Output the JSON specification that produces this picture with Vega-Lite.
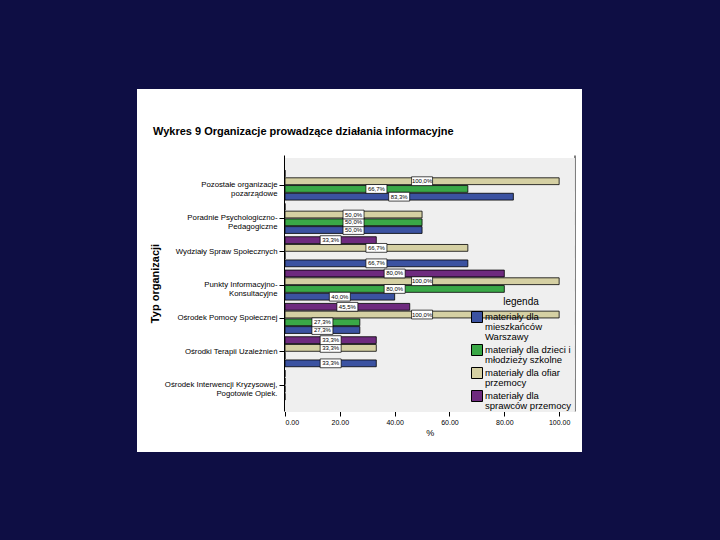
{
  "$schema": "https://vega.github.io/schema/vega-lite/v6.json",
  "width": 445,
  "height": 363,
  "autosize": {"type": "none"},
  "padding": {"left": 137, "top": 89, "right": 138, "bottom": 88},
  "background": "#0e0e44",
  "config": {
    "view": {"fill": "white", "stroke": null},
    "font": "Liberation Sans",
    "locale": {"number": {"decimal": ",", "thousands": ".", "grouping": [3], "currency": ["", "%"]}},
    "axis": {"grid": false, "domainColor": "black", "tickColor": "black", "labelColor": "black", "titleColor": "black", "labelFont": "Liberation Sans", "titleFont": "Liberation Sans"}
  },
  "title": {
    "text": "Wykres 9 Organizacje prowadzące działania informacyjne",
    "anchor": "start",
    "frame": "group",
    "dx": 16,
    "offset": -48,
    "fontSize": 11,
    "fontWeight": "bold",
    "color": "black",
    "font": "Liberation Sans"
  },
  "data": {
    "values": [
      {"typ": "Pozostałe organizacje pozarządowe", "seria": "materiały dla mieszkańców Warszawy", "wartosc": 83.3},
      {"typ": "Pozostałe organizacje pozarządowe", "seria": "materiały dla dzieci i młodzieży szkolne", "wartosc": 66.7},
      {"typ": "Pozostałe organizacje pozarządowe", "seria": "materiały dla ofiar przemocy", "wartosc": 100},
      {"typ": "Pozostałe organizacje pozarządowe", "seria": "materiały dla sprawców przemocy", "wartosc": 0},
      {"typ": "Poradnie Psychologiczno-Pedagogiczne", "seria": "materiały dla mieszkańców Warszawy", "wartosc": 50},
      {"typ": "Poradnie Psychologiczno-Pedagogiczne", "seria": "materiały dla dzieci i młodzieży szkolne", "wartosc": 50},
      {"typ": "Poradnie Psychologiczno-Pedagogiczne", "seria": "materiały dla ofiar przemocy", "wartosc": 50},
      {"typ": "Poradnie Psychologiczno-Pedagogiczne", "seria": "materiały dla sprawców przemocy", "wartosc": 0},
      {"typ": "Wydziały Spraw Społecznych", "seria": "materiały dla mieszkańców Warszawy", "wartosc": 66.7},
      {"typ": "Wydziały Spraw Społecznych", "seria": "materiały dla dzieci i młodzieży szkolne", "wartosc": 0},
      {"typ": "Wydziały Spraw Społecznych", "seria": "materiały dla ofiar przemocy", "wartosc": 66.7},
      {"typ": "Wydziały Spraw Społecznych", "seria": "materiały dla sprawców przemocy", "wartosc": 33.3},
      {"typ": "Punkty Informacyjno-Konsultacyjne", "seria": "materiały dla mieszkańców Warszawy", "wartosc": 40},
      {"typ": "Punkty Informacyjno-Konsultacyjne", "seria": "materiały dla dzieci i młodzieży szkolne", "wartosc": 80},
      {"typ": "Punkty Informacyjno-Konsultacyjne", "seria": "materiały dla ofiar przemocy", "wartosc": 100},
      {"typ": "Punkty Informacyjno-Konsultacyjne", "seria": "materiały dla sprawców przemocy", "wartosc": 80},
      {"typ": "Ośrodek Pomocy Społecznej", "seria": "materiały dla mieszkańców Warszawy", "wartosc": 27.3},
      {"typ": "Ośrodek Pomocy Społecznej", "seria": "materiały dla dzieci i młodzieży szkolne", "wartosc": 27.3},
      {"typ": "Ośrodek Pomocy Społecznej", "seria": "materiały dla ofiar przemocy", "wartosc": 100},
      {"typ": "Ośrodek Pomocy Społecznej", "seria": "materiały dla sprawców przemocy", "wartosc": 45.5},
      {"typ": "Ośrodki Terapii Uzależnień", "seria": "materiały dla mieszkańców Warszawy", "wartosc": 33.3},
      {"typ": "Ośrodki Terapii Uzależnień", "seria": "materiały dla dzieci i młodzieży szkolne", "wartosc": 0},
      {"typ": "Ośrodki Terapii Uzależnień", "seria": "materiały dla ofiar przemocy", "wartosc": 33.3},
      {"typ": "Ośrodki Terapii Uzależnień", "seria": "materiały dla sprawców przemocy", "wartosc": 33.3},
      {"typ": "Ośrodek Interwencji Kryzysowej, Pogotowie Opiek.", "seria": "materiały dla mieszkańców Warszawy", "wartosc": 0},
      {"typ": "Ośrodek Interwencji Kryzysowej, Pogotowie Opiek.", "seria": "materiały dla dzieci i młodzieży szkolne", "wartosc": 0},
      {"typ": "Ośrodek Interwencji Kryzysowej, Pogotowie Opiek.", "seria": "materiały dla ofiar przemocy", "wartosc": 0},
      {"typ": "Ośrodek Interwencji Kryzysowej, Pogotowie Opiek.", "seria": "materiały dla sprawców przemocy", "wartosc": 0}
    ]
  },
  "layer": [
    {
      "layer": [
        {
          "mark": {"type": "bar", "color": "#efefef", "height": {"band": 1.8}},
          "encoding": {
            "y": {
              "field": "typ", "type": "nominal", "sort": null,
              "scale": {"range": [66, 322], "paddingInner": 0.1, "paddingOuter": 0.39, "align": 0.58},
              "axis": {
                "orient": "left", "offset": -147, "tickSize": 5, "labelPadding": 2,
                "labelFontSize": 7.8, "labelLineHeight": 8.5, "labelLimit": 200, "labelColor": "black",
                "labelExpr": "datum.label == 'Pozostałe organizacje pozarządowe' ? ['Pozostałe organizacje', 'pozarządowe'] : datum.label == 'Poradnie Psychologiczno-Pedagogiczne' ? ['Poradnie Psychologiczno-', 'Pedagogiczne'] : datum.label == 'Punkty Informacyjno-Konsultacyjne' ? ['Punkty Informacyjno-', 'Konsultacyjne'] : datum.label == 'Ośrodek Interwencji Kryzysowej, Pogotowie Opiek.' ? ['Ośrodek Interwencji Kryzysowej,', 'Pogotowie Opiek.'] : datum.label",
                "title": "Typ organizacji", "titleFontSize": 11, "titleFontWeight": "bold", "titlePadding": 4
              }
            },
            "x": {
              "datum": 0, "type": "quantitative",
              "scale": {"domain": [0, 105.6], "range": [148, 437.5], "nice": false, "zero": true},
              "axis": {
                "orient": "bottom", "offset": -41, "values": [0, 20, 40, 60, 80, 100],
                "format": ".2f", "labelExpr": "replace(datum.label, ',', '.')",
                "tickSize": 5, "labelPadding": 2, "labelFontSize": 7, "labelColor": "black",
                "title": "%", "titleFontSize": 9, "titleFontWeight": "normal", "titlePadding": 3
              }
            },
            "x2": {"datum": 105.6}
          }
        },
        {
          "mark": {"type": "bar", "stroke": "black", "strokeWidth": 0.8},
          "encoding": {
            "y": {"field": "typ", "type": "nominal", "sort": null},
            "yOffset": {
              "field": "seria", "type": "nominal",
              "scale": {"domain": ["materiały dla sprawców przemocy", "materiały dla ofiar przemocy", "materiały dla dzieci i młodzieży szkolne", "materiały dla mieszkańców Warszawy"], "paddingInner": 0.12}
            },
            "x": {"field": "wartosc", "type": "quantitative"},
            "color": {
              "field": "seria", "type": "nominal",
              "scale": {
                "domain": ["materiały dla mieszkańców Warszawy", "materiały dla dzieci i młodzieży szkolne", "materiały dla ofiar przemocy", "materiały dla sprawców przemocy"],
                "range": ["#3b52a1", "#3aa847", "#d5d0a3", "#6e2a7e"]
              },
              "legend": {
                "orient": "none", "legendX": 334, "legendY": 208,
                "title": "legenda", "titleFontSize": 10, "titleFontWeight": "normal", "titleAnchor": "middle", "titleColor": "black", "titlePadding": 4,
                "labelFontSize": 9.5, "labelColor": "black", "labelLimit": 200, "labelOffset": 2,
                "symbolType": "square", "symbolSize": 121, "symbolStrokeColor": "black", "symbolStrokeWidth": 1, "symbolOpacity": 1,
                "rowPadding": 0,
                "encode": {"labels": {"update": {"lineHeight": {"value": 9.8}}}},
                "labelExpr": "datum.label == 'materiały dla mieszkańców Warszawy' ? ['materiały dla', 'mieszkańców', 'Warszawy'] : datum.label == 'materiały dla dzieci i młodzieży szkolne' ? ['materiały dla dzieci i', 'młodzieży szkolne'] : datum.label == 'materiały dla ofiar przemocy' ? ['materiały dla ofiar', 'przemocy'] : ['materiały dla', 'sprawców przemocy']"
              }
            }
          }
        }
      ]
    },
    {
      "transform": [{"filter": "datum.wartosc > 0"}],
      "encoding": {
        "x": {
          "field": "wartosc", "type": "quantitative",
          "scale": {"domain": [0, 211.2], "range": [148, 437.5], "nice": false, "zero": true},
          "axis": null
        },
        "y": {
          "field": "typ", "type": "nominal", "sort": null,
          "axis": {"orient": "right", "offset": -7.5, "labels": false, "ticks": false, "title": null, "domainColor": "black"}
        },
        "yOffset": {"field": "seria", "type": "nominal"}
      },
      "layer": [
        {
          "mark": {"type": "point", "shape": "M-1,-0.42H1V0.42H-1Z", "size": 441, "filled": true, "fill": "white", "stroke": "black", "strokeWidth": 0.7, "opacity": 1}
        },
        {
          "mark": {"type": "text", "fontSize": 6, "color": "black", "font": "Liberation Sans"},
          "encoding": {"text": {"field": "wartosc", "type": "quantitative", "format": "$.1f"}}
        }
      ]
    }
  ],
  "resolve": {"scale": {"x": "independent"}, "axis": {"y": "independent"}}
}
